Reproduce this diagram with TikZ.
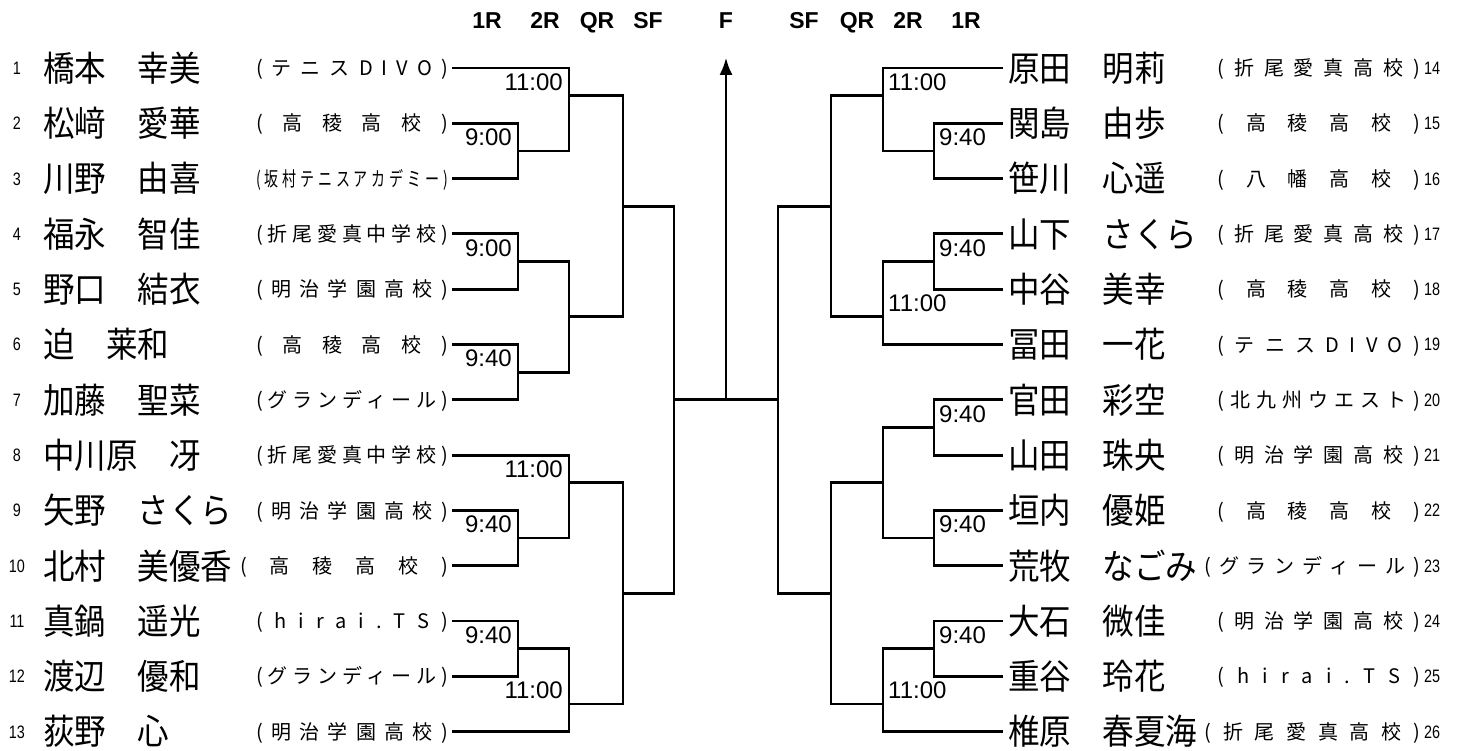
\documentclass[tikz,border=0pt]{standalone}
\usepackage{fontspec}
\setmainfont{Liberation Sans}
\newfontfamily\namefont[FakeStretch=0.9]{Noto Sans CJK JP}
\newfontfamily\clubfont{Noto Sans CJK JP}
\newfontfamily\clubnarrowfont[FakeStretch=0.7]{Noto Sans CJK JP}
\newfontfamily\seedfont[FakeStretch=0.8]{Liberation Sans}
\usetikzlibrary{arrows.meta, positioning}
\tikzset{seed/.style={font={\seedfont\fontsize{18pt}{20pt}\selectfont},inner sep=0pt,text height=12.9pt,text depth=0pt},
         player/.style={font={\namefont\fontsize{35pt}{40pt}\selectfont},inner sep=0pt,text height=30.8pt,text depth=4.2pt,anchor=west},
         rplayer/.style={player,outer xsep=5pt},
         club/.style={font={\clubfont\fontsize{20pt}{24pt}\selectfont},inner sep=0pt,text height=17.6pt,text depth=2.4pt,anchor=east},
         lclub/.style={club,outer xsep=4pt},
         narrowclub/.style={lclub,font={\clubnarrowfont\fontsize{20pt}{24pt}\selectfont}},
         time/.style={font={\fontsize{24pt}{28pt}\selectfont},inner sep=0pt,text height=17.2pt,text depth=0pt},
         roundhead/.style={font={\bfseries\fontsize{23pt}{26pt}\selectfont},inner sep=0pt,anchor=base},
         bracket/.style={line width=2.8pt},
         finalarrow/.style={line width=1.8pt,-{Latex[length=17pt,width=13pt]}}}
\newcommand\spreadclub[2]{\makebox[#1][s]{\spreadloop#2\endspread}}
\def\spreadloop#1#2\endspread{#1\ifx\relax#2\relax\else\hfill\spreadloop#2\endspread\fi}

\begin{document}
\begin{tikzpicture}[x=1pt,y=-1pt]
        \useasboundingbox (0,0) rectangle (1467,751);

        % rounds
        \node[roundhead](hl1)at(487,29){1R};
        \node[roundhead](hl2)at(545,29){2R};
        \node[roundhead](hl3)at(597,29){QR};
        \node[roundhead](hl4)at(648,29){SF};
        \node[roundhead](hf)at(726,29){F};
        \node[roundhead](hr4)at(804,29){SF};
        \node[roundhead](hr3)at(857,29){QR};
        \node[roundhead](hr2)at(908,29){2R};
        \node[roundhead](hr1)at(966,29){1R};

        % left block
        \node[seed](s1)at(17,68){1};
        \node[seed](s2)at(17,123.3){2};
        \node[seed](s3)at(17,178.6){3};
        \node[seed](s4)at(17,233.9){4};
        \node[seed](s5)at(17,289.2){5};
        \node[seed](s6)at(17,344.5){6};
        \node[seed](s7)at(17,399.8){7};
        \node[seed](s8)at(17,455.1){8};
        \node[seed](s9)at(17,510.4){9};
        \node[seed](s10)at(17,565.7){10};
        \node[seed](s11)at(17,621){11};
        \node[seed](s12)at(17,676.3){12};
        \node[seed](s13)at(17,731.6){13};

        \node[player](p1)at(43,68){橋本　幸美};
        \node[player](p2)at(43,123.3){松﨑　愛華};
        \node[player](p3)at(43,178.6){川野　由喜};
        \node[player](p4)at(43,233.9){福永　智佳};
        \node[player](p5)at(43,289.2){野口　結衣};
        \node[player](p6)at(43,344.5){迫　莱和};
        \node[player](p7)at(43,399.8){加藤　聖菜};
        \node[player](p8)at(43,455.1){中川原　冴};
        \node[player](p9)at(43,510.4){矢野　さくら};
        \node[player](p10)at(43,565.7){北村　美優香};
        \node[player](p11)at(43,621){真鍋　遥光};
        \node[player](p12)at(43,676.3){渡辺　優和};
        \node[player](p13)at(43,731.6){荻野　心};

        \node[lclub](c1)at(452,68){\spreadclub{192pt}{(テニスDIVO)}};
        \node[lclub](c2)at(452,123.3){\spreadclub{192pt}{(高稜高校)}};
        \node[narrowclub](c3)at(452,178.6){\spreadclub{192pt}{(坂村テニスアカデミー)}};
        \node[lclub](c4)at(452,233.9){\spreadclub{192pt}{(折尾愛真中学校)}};
        \node[lclub](c5)at(452,289.2){\spreadclub{192pt}{(明治学園高校)}};
        \node[lclub](c6)at(452,344.5){\spreadclub{192pt}{(高稜高校)}};
        \node[lclub](c7)at(452,399.8){\spreadclub{192pt}{(グランディール)}};
        \node[lclub](c8)at(452,455.1){\spreadclub{192pt}{(折尾愛真中学校)}};
        \node[lclub](c9)at(452,510.4){\spreadclub{192pt}{(明治学園高校)}};
        \node[lclub](c10)at(452,565.7){\spreadclub{208pt}{(高稜高校)}};
        \node[lclub](c11)at(452,621){\spreadclub{192pt}{(hirai.TS)}};
        \node[lclub](c12)at(452,676.3){\spreadclub{192pt}{(グランディール)}};
        \node[lclub](c13)at(452,731.6){\spreadclub{192pt}{(明治学園高校)}};

        % right block
        \node[rplayer](p14)at(1003,68){原田　明莉};
        \node[rplayer](p15)at(1003,123.3){関島　由歩};
        \node[rplayer](p16)at(1003,178.6){笹川　心遥};
        \node[rplayer](p17)at(1003,233.9){山下　さくら};
        \node[rplayer](p18)at(1003,289.2){中谷　美幸};
        \node[rplayer](p19)at(1003,344.5){冨田　一花};
        \node[rplayer](p20)at(1003,399.8){官田　彩空};
        \node[rplayer](p21)at(1003,455.1){山田　珠央};
        \node[rplayer](p22)at(1003,510.4){垣内　優姫};
        \node[rplayer](p23)at(1003,565.7){荒牧　なごみ};
        \node[rplayer](p24)at(1003,621){大石　微佳};
        \node[rplayer](p25)at(1003,676.3){重谷　玲花};
        \node[rplayer](p26)at(1003,731.6){椎原　春夏海};

        \node[club](c14)at(1420,68){\spreadclub{202pt}{(折尾愛真高校)}};
        \node[club](c15)at(1420,123.3){\spreadclub{202pt}{(高稜高校)}};
        \node[club](c16)at(1420,178.6){\spreadclub{202pt}{(八幡高校)}};
        \node[club](c17)at(1420,233.9){\spreadclub{202pt}{(折尾愛真高校)}};
        \node[club](c18)at(1420,289.2){\spreadclub{202pt}{(高稜高校)}};
        \node[club](c19)at(1420,344.5){\spreadclub{202pt}{(テニスDIVO)}};
        \node[club](c20)at(1420,399.8){\spreadclub{202pt}{(北九州ウエスト)}};
        \node[club](c21)at(1420,455.1){\spreadclub{202pt}{(明治学園高校)}};
        \node[club](c22)at(1420,510.4){\spreadclub{202pt}{(高稜高校)}};
        \node[club](c23)at(1420,565.7){\spreadclub{215pt}{(グランディール)}};
        \node[club](c24)at(1420,621){\spreadclub{202pt}{(明治学園高校)}};
        \node[club](c25)at(1420,676.3){\spreadclub{202pt}{(hirai.TS)}};
        \node[club](c26)at(1420,731.6){\spreadclub{215pt}{(折尾愛真高校)}};

        \node[seed, right=4pt of c14](s14){14};
        \node[seed, right=4pt of c15](s15){15};
        \node[seed, right=4pt of c16](s16){16};
        \node[seed, right=4pt of c17](s17){17};
        \node[seed, right=4pt of c18](s18){18};
        \node[seed, right=4pt of c19](s19){19};
        \node[seed, right=4pt of c20](s20){20};
        \node[seed, right=4pt of c21](s21){21};
        \node[seed, right=4pt of c22](s22){22};
        \node[seed, right=4pt of c23](s23){23};
        \node[seed, right=4pt of c24](s24){24};
        \node[seed, right=4pt of c25](s25){25};
        \node[seed, right=4pt of c26](s26){26};

        % match corners
        \coordinate(lA)at(518,150.95);
        \coordinate(lB)at(569,95.65);
        \coordinate(lE)at(518,261.55);
        \coordinate(lF)at(518,372.15);
        \coordinate(lD)at(569,316.85);
        \coordinate(lC)at(623,206.25);
        \coordinate(lH)at(518,538.05);
        \coordinate(lI)at(569,482.75);
        \coordinate(lJ)at(518,648.65);
        \coordinate(lK)at(569,703.95);
        \coordinate(lL)at(623,593.35);
        \coordinate(lS)at(674,399.8);
        \coordinate(rA)at(934,150.95);
        \coordinate(rB)at(883,95.65);
        \coordinate(rC)at(934,261.55);
        \coordinate(rD)at(883,316.85);
        \coordinate(rE)at(831,206.25);
        \coordinate(rF)at(934,427.45);
        \coordinate(rG)at(934,538.05);
        \coordinate(rH)at(883,482.75);
        \coordinate(rI)at(934,648.65);
        \coordinate(rJ)at(883,703.95);
        \coordinate(rK)at(831,593.35);
        \coordinate(rS)at(778,399.8);
        \coordinate(fin)at(726,399.8);
        \coordinate(tip)at(726,58);

        \draw[bracket](c2.east)-|(lA)|-(c3.east);
        \draw[bracket](c1.east)-|(lB)|-(lA);
        \draw[bracket](c4.east)-|(lE)|-(c5.east);
        \draw[bracket](c6.east)-|(lF)|-(c7.east);
        \draw[bracket](lE)-|(lD)|-(lF);
        \draw[bracket](lB)-|(lC)|-(lD);
        \draw[bracket](c9.east)-|(lH)|-(c10.east);
        \draw[bracket](c8.east)-|(lI)|-(lH);
        \draw[bracket](c11.east)-|(lJ)|-(c12.east);
        \draw[bracket](lJ)-|(lK)|-(c13.east);
        \draw[bracket](lI)-|(lL)|-(lK);
        \draw[bracket](lC)-|(lS)|-(lL);

        \draw[bracket](p15.west)-|(rA)|-(p16.west);
        \draw[bracket](p14.west)-|(rB)|-(rA);
        \draw[bracket](p17.west)-|(rC)|-(p18.west);
        \draw[bracket](rC)-|(rD)|-(p19.west);
        \draw[bracket](rB)-|(rE)|-(rD);
        \draw[bracket](p20.west)-|(rF)|-(p21.west);
        \draw[bracket](p22.west)-|(rG)|-(p23.west);
        \draw[bracket](rF)-|(rH)|-(rG);
        \draw[bracket](p24.west)-|(rI)|-(p25.west);
        \draw[bracket](rI)-|(rJ)|-(p26.west);
        \draw[bracket](rH)-|(rK)|-(rJ);
        \draw[bracket](rE)-|(rS)|-(rK);

        \draw[bracket](lS)--(rS);
        \draw[finalarrow](fin)--(tip);

        % times
        \node[time, anchor=north east](tl1)at(563,73){11:00};
        \node[time, anchor=north east](tl2)at(512,128.3){9:00};
        \node[time, anchor=north east](tl3)at(512,238.9){9:00};
        \node[time, anchor=north east](tl4)at(512,349.5){9:40};
        \node[time, anchor=north east](tl5)at(563,460.1){11:00};
        \node[time, anchor=north east](tl6)at(512,515.4){9:40};
        \node[time, anchor=north east](tl7)at(512,626){9:40};
        \node[time, anchor=north east](tl8)at(563,681.3){11:00};
        \node[time, anchor=north west](tr1)at(888,73){11:00};
        \node[time, anchor=north west](tr2)at(939,128.3){9:40};
        \node[time, anchor=north west](tr3)at(939,238.9){9:40};
        \node[time, anchor=north west](tr4)at(888,294.2){11:00};
        \node[time, anchor=north west](tr5)at(939,404.8){9:40};
        \node[time, anchor=north west](tr6)at(939,515.4){9:40};
        \node[time, anchor=north west](tr7)at(939,626){9:40};
        \node[time, anchor=north west](tr8)at(888,681.3){11:00};
    \end{tikzpicture}
\end{document}
